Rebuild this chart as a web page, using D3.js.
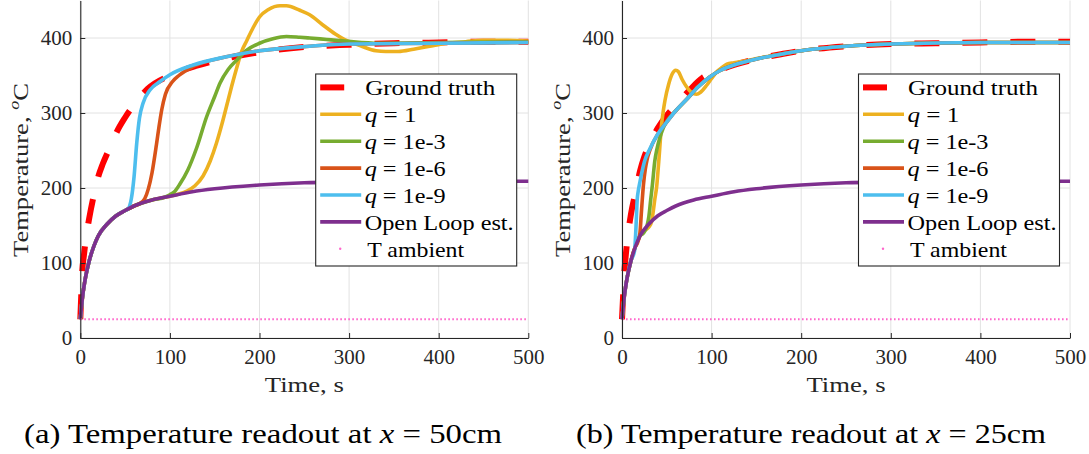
<!DOCTYPE html>
<html>
<head>
<meta charset="utf-8">
<script src="https://cdn.jsdelivr.net/npm/d3@7"></script>
<style>
  html, body { margin: 0; padding: 0; background: #ffffff; }
  svg { display: block; }
  text { font-family: "Liberation Serif", serif; }
</style>
</head>
<body>
<svg id="chart" width="1089" height="454"></svg>
<script>
// ---------------- DATA ----------------
const xTicks = [0, 100, 200, 300, 400, 500];
const yTicks = [0, 100, 200, 300, 400];
const legendLabels = ["Ground truth", "q = 1", "q = 1e-3", "q = 1e-6", "q = 1e-9", "Open Loop est.", "T ambient"];
const captionA = ["(a) Temperature readout at ", "x", " = 50cm"];
const captionB = ["(b) Temperature readout at ", "x", " = 25cm"];
const xLabel = "Time, s";
const yLabel = "Temperature, ";
const ambientTemp = 25;
const ambientSpan = [0, 500];

// Panel (a): x = 50cm
const gtA_t = [0, 1, 2, 4, 6, 10, 15, 20, 25, 30, 35, 40, 50, 60, 75, 100, 130, 160, 200, 250, 300, 350, 400, 450, 500];
const gtA_T = [25, 55, 85, 110, 130, 160, 190, 215, 232, 246, 259, 273, 294, 311, 332, 350, 363, 372, 381, 388, 391, 393, 394, 395, 395];

const olA_t = [0, 1, 2, 4, 6, 10, 15, 20, 30, 40, 50, 60, 80, 100, 125, 150, 200, 250, 300, 400, 500];
const olA_T = [25, 38, 50, 68, 82, 103, 122, 136, 152, 163, 170, 176, 184, 189, 195, 199, 204, 207, 208, 209, 209];

const q9A_t = [0, 1, 2, 4, 6, 10, 15, 20, 30, 40, 50, 53, 55, 57, 60, 63, 66, 70, 78, 89, 100, 126, 163, 200, 256, 300, 400, 500];
const q9A_T = [25, 38, 50, 68, 82, 103, 122, 136, 152, 163, 170, 172, 176, 186, 215, 260, 293, 313, 331, 342, 351, 364, 375, 383, 389, 392, 393, 394];

const q6A_t = [0, 1, 2, 4, 6, 10, 15, 20, 30, 40, 50, 60, 66, 72, 80, 85, 88, 91, 95, 103, 110, 126, 163, 200, 256, 300, 400, 500];
const q6A_T = [25, 38, 50, 68, 82, 103, 122, 136, 152, 163, 170, 176, 179, 186, 220, 258, 283, 305, 325, 342, 350, 362, 375, 383, 389, 392, 393, 394];

const q3A_t = [0, 1, 2, 4, 6, 10, 15, 20, 30, 40, 50, 60, 80, 95, 100, 105, 111, 120, 130, 141, 150, 156, 165, 175, 185, 200, 215, 230, 245, 256, 275, 295, 333, 400, 500];
const q3A_T = [25, 38, 50, 68, 82, 103, 122, 136, 152, 163, 170, 176, 184, 188, 191, 195, 205, 224, 254, 295, 322, 340, 358, 371, 383, 393, 399, 402, 401, 400, 398, 396, 393, 394, 395];

const q0A_t = [0, 1, 2, 4, 6, 10, 15, 20, 30, 40, 50, 60, 80, 100, 110, 119, 128, 137, 145, 152, 158, 163, 169, 175, 180, 186, 193, 200, 210, 223, 230, 245, 256, 270, 285, 295, 314, 330, 341, 355, 372, 390, 410, 430, 450, 475, 500];
const q0A_T = [25, 38, 50, 68, 82, 103, 122, 136, 152, 163, 170, 176, 184, 189, 192, 196, 203, 216, 236, 260, 285, 308, 336, 362, 382, 397, 414, 428, 438, 443, 443, 437, 431, 418, 405, 398, 389, 383, 382, 382, 385, 389, 393, 395, 397, 397, 396];

// Panel (b): x = 25cm
const gtB_t = [0, 1, 2, 5, 10, 15, 20, 25, 30, 40, 50, 60, 75, 90, 100, 125, 150, 180, 200, 250, 300, 350, 400, 450, 500];
const gtB_T = [25, 50, 75, 120, 165, 194, 222, 242, 256, 280, 297, 310, 330, 347, 353, 364, 372, 379, 383, 389, 392, 393, 394, 395, 395];

const olB_t = [0, 1, 2, 4, 6, 10, 15, 20, 30, 40, 50, 60, 80, 100, 125, 150, 200, 250, 300, 400, 500];
const olB_T = [25, 38, 50, 68, 82, 103, 122, 136, 152, 163, 170, 176, 184, 189, 195, 199, 204, 207, 208, 209, 209];

const q9B_t = [0, 1, 2, 4, 6, 10, 14, 15.5, 17, 18, 20, 22, 25, 31, 40, 50, 60, 72, 85, 98, 110, 125, 150, 180, 200, 250, 300, 400, 500];
const q9B_T = [25, 38, 50, 68, 82, 103, 116, 145, 185, 195, 208, 220, 235, 252, 272, 288, 303, 318, 335, 348, 357, 364, 372, 379, 383, 389, 392, 394, 394];

const q6B_t = [0, 1, 2, 4, 6, 10, 15, 17, 20, 21.5, 22.6, 24, 26, 28, 31, 40, 50, 60, 72, 85, 98, 110, 125, 150, 180, 200, 250, 300, 400, 500];
const q6B_T = [25, 38, 50, 68, 82, 103, 122, 126, 140, 165, 184, 205, 225, 238, 250, 272, 288, 303, 318, 335, 348, 357, 364, 372, 379, 383, 389, 392, 394, 394];

const q3B_t = [0, 1, 2, 4, 6, 10, 15, 20, 24, 28, 30, 32, 34, 36.5, 39, 42, 46, 50, 60, 72, 85, 98, 110, 125, 150, 180, 200, 250, 300, 400, 500];
const q3B_T = [25, 38, 50, 68, 82, 103, 122, 136, 140, 150, 162, 184, 205, 235, 252, 266, 280, 289, 303, 318, 335, 348, 357, 364, 372, 379, 383, 389, 392, 394, 394];

const q0B_t = [0, 1, 2, 4, 6, 10, 15, 20, 25, 30, 33, 35, 36.5, 38.7, 41, 44.3, 46, 48, 52, 56, 60, 63, 67, 72, 78, 83, 88, 94.5, 100, 105.7, 112, 117, 125, 140, 160, 180, 200, 250, 300, 400, 500];
const q0B_T = [25, 38, 50, 68, 82, 103, 122, 136, 143, 148, 155, 170, 184, 202, 235, 286, 302, 317, 338, 352, 357, 355, 345, 335, 327, 325, 328, 337, 346, 355, 361, 365, 367, 370, 375, 379, 383, 389, 392, 394, 394];

// ---------------- RENDER ----------------
const svg = d3.select("#chart");
const W = 1089, H = 454;
svg.append("rect").attr("width", W).attr("height", H).attr("fill", "#ffffff");

const SERIF = "Liberation Serif, serif";
const colors = {
  gt: "#FF0000", q0: "#EDB120", q3: "#77AC30", q6: "#D95319", q9: "#4DBEEE", ol: "#7E2F8E", amb: "#FF66CC"
};
const legendWidths = [130, 52, 81, 81, 81, 149, 97];

function zip(ts, vs) { return ts.map((t, i) => [t, vs[i]]); }

function drawPanel(cfg) {
  const x = d3.scaleLinear().domain([0, 500]).range([cfg.x0, cfg.x1]);
  const y = d3.scaleLinear().domain([0, 450]).range([338, 0.5]);
  const g = svg.append("g");

  // grid
  const grid = g.append("g");
  grid.selectAll(".gx").data(xTicks).join("line")
    .attr("x1", d => x(d)).attr("x2", d => x(d))
    .attr("y1", y(0)).attr("y2", y(450))
    .attr("stroke", "#e2e2e2").attr("stroke-width", 1);
  grid.selectAll(".gy").data(yTicks).join("line")
    .attr("x1", x(0)).attr("x2", x(500))
    .attr("y1", d => y(d)).attr("y2", d => y(d))
    .attr("stroke", "#e2e2e2").attr("stroke-width", 1);

  const line = d3.line().x(d => x(d[0])).y(d => y(d[1])).curve(d3.curveMonotoneX);

  // curves (legend order)
  g.append("path").datum(zip(cfg.gt[0], cfg.gt[1]))
    .attr("d", line).attr("fill", "none").attr("stroke", colors.gt)
    .attr("stroke-width", 6).attr("stroke-dasharray", "25,23");
  const solid = [["q0", cfg.q0], ["q3", cfg.q3], ["q6", cfg.q6], ["q9", cfg.q9], ["ol", cfg.ol]];
  solid.forEach(([k, s]) => {
    g.append("path").datum(zip(s[0], s[1]))
      .attr("d", line).attr("fill", "none").attr("stroke", colors[k])
      .attr("stroke-width", 3.6).attr("stroke-linejoin", "round");
  });
  g.append("path").datum(ambientSpan.map(t => [t, ambientTemp]))
    .attr("d", d3.line().x(d => x(d[0])).y(d => y(d[1])))
    .attr("fill", "none").attr("stroke", colors.amb)
    .attr("stroke-width", 2).attr("stroke-dasharray", "1.6,2.4");

  // axes
  const ax = g.append("g").attr("transform", `translate(0,${y(0)})`)
    .call(d3.axisBottom(x).tickValues(xTicks).tickSizeInner(-5).tickSizeOuter(0).tickPadding(11));
  const ay = g.append("g").attr("transform", `translate(${x(0)},0)`)
    .call(d3.axisLeft(y).tickValues(yTicks).tickSizeInner(-5).tickSizeOuter(0).tickPadding(8));
  [ax, ay].forEach(a => {
    a.attr("font-family", SERIF).attr("font-size", 21);
    a.select(".domain").attr("stroke", "#262626").attr("stroke-width", 1.1);
    a.selectAll(".tick line").attr("stroke", "#262626");
    a.selectAll(".tick text").attr("fill", "#262626");
  });

  // axis labels
  g.append("text").attr("x", (cfg.x0 + cfg.x1) / 2).attr("y", 392)
    .attr("text-anchor", "middle").attr("font-family", SERIF).attr("font-size", 22)
    .attr("fill", "#262626").attr("textLength", 79).attr("lengthAdjust", "spacingAndGlyphs")
    .text(xLabel);
  const yl = g.append("text")
    .attr("transform", `translate(${cfg.x0 - 52.5},170) rotate(-90)`)
    .attr("text-anchor", "middle").attr("font-family", SERIF).attr("font-size", 22)
    .attr("fill", "#262626").attr("textLength", 174).attr("lengthAdjust", "spacingAndGlyphs");
  yl.append("tspan").text(yLabel);
  yl.append("tspan").attr("font-style", "italic").attr("font-size", 15).attr("dy", -9).text("o");
  yl.append("tspan").attr("dy", 9).text("C");

  // legend
  const lx = cfg.legX, ly = 74, lw = 201, lh = 192;
  const lg = g.append("g");
  lg.append("rect").attr("x", lx).attr("y", ly).attr("width", lw).attr("height", lh)
    .attr("fill", "#ffffff").attr("stroke", "#262626").attr("stroke-width", 1.1);
  const keys = ["gt", "q0", "q3", "q6", "q9", "ol", "amb"];
  legendLabels.forEach((lab, i) => {
    const cy = ly + 13.4 + i * 26.9;
    const k = keys[i];
    if (k === "gt") {
      lg.append("line").attr("x1", lx + 4.5).attr("x2", lx + 28.5).attr("y1", cy).attr("y2", cy)
        .attr("stroke", colors.gt).attr("stroke-width", 6);
    } else if (k === "amb") {
      lg.append("circle").attr("cx", lx + 24.5).attr("cy", cy).attr("r", 1.2).attr("fill", colors.amb);
    } else {
      lg.append("line").attr("x1", lx + 4.5).attr("x2", lx + 45.5).attr("y1", cy).attr("y2", cy)
        .attr("stroke", colors[k]).attr("stroke-width", 3.6);
    }
    const t = lg.append("text").attr("x", lx + (k === "gt" ? 49.5 : (k === "amb" ? 51.5 : 49)))
      .attr("y", cy + 7.7).attr("font-family", SERIF).attr("font-size", 22).attr("fill", "#000000")
      .attr("textLength", legendWidths[i]).attr("lengthAdjust", "spacingAndGlyphs");
    if (lab.startsWith("q ")) {
      t.append("tspan").attr("font-style", "italic").text("q");
      t.append("tspan").text(lab.slice(1));
    } else {
      t.text(lab);
    }
  });

  // caption
  const cap = svg.append("text").attr("x", cfg.capX).attr("y", 443)
    .attr("text-anchor", "middle").attr("font-family", SERIF).attr("font-size", 27)
    .attr("fill", "#000000").attr("textLength", cfg.capW).attr("lengthAdjust", "spacingAndGlyphs");
  cap.append("tspan").text(cfg.caption[0]);
  cap.append("tspan").attr("font-style", "italic").text(cfg.caption[1]);
  cap.append("tspan").text(cfg.caption[2]);
}

drawPanel({
  x0: 80.3, x1: 528.3, legX: 315.7, capX: 263, capW: 478, caption: captionA,
  gt: [gtA_t, gtA_T], ol: [olA_t, olA_T], q9: [q9A_t, q9A_T], q6: [q6A_t, q6A_T], q3: [q3A_t, q3A_T], q0: [q0A_t, q0A_T]
});
drawPanel({
  x0: 622, x1: 1070, legX: 858.5, capX: 811, capW: 470, caption: captionB,
  gt: [gtB_t, gtB_T], ol: [olB_t, olB_T], q9: [q9B_t, q9B_T], q6: [q6B_t, q6B_T], q3: [q3B_t, q3B_T], q0: [q0B_t, q0B_T]
});
</script>
</body>
</html>
